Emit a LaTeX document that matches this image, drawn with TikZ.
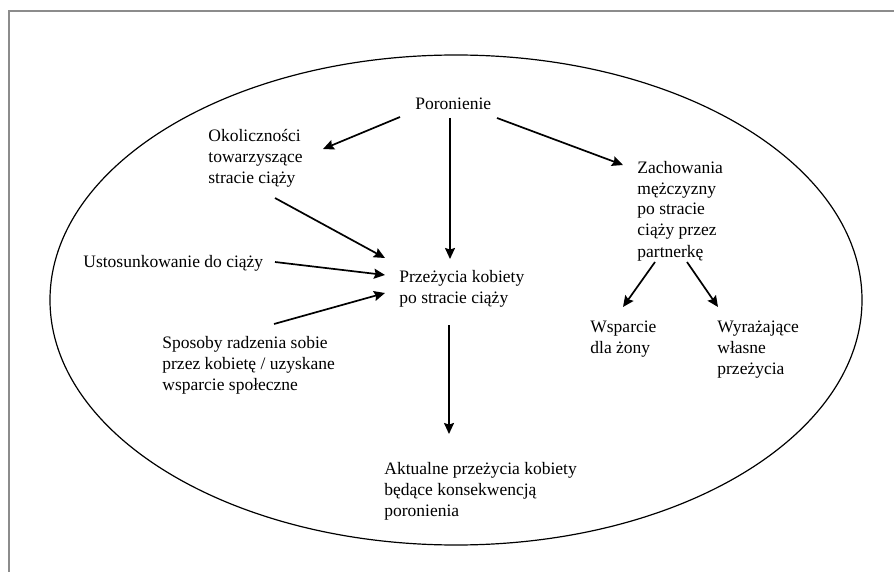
\documentclass[tikz,border=0pt]{standalone}
\usepackage{fontspec}
\setmainfont{Liberation Serif}
\usetikzlibrary{arrows.meta,calc,positioning}

\begin{document}
\begin{tikzpicture}[
    x=0.5pt, y=-0.5pt,
    every node/.style={font=\fontsize{8.75}{10.5}\selectfont},
    txt/.style={align=left, inner sep=0pt, anchor=base west},
    arrow/.style={-{Stealth[length=5.5pt, width=5pt, inset=0.8pt]}, line width=0.85pt},
    frame/.style={draw=black!45, line width=1pt}
]
    \useasboundingbox (0,0) rectangle (894,572);
    \draw[frame] (9,572) |- (894,11);
    \draw[line width=0.6pt] (456,300) ellipse [x radius=406, y radius=245];

    \node[txt] (por) at (415,110) {Poronienie};
    \node[txt] (okol) at (208,184) {Okoliczności\\towarzyszące\\stracie ciąży};
    \node[txt] (ust) at (83,268) {Ustosunkowanie do ciąży};
    \node[txt] (prz) at (399,304) {Przeżycia kobiety\\po stracie ciąży};
    \node[txt] (spos) at (162,390) {Sposoby radzenia sobie\\przez kobietę / uzyskane\\wsparcie społeczne};
    \node[txt] (akt) at (384,516) {Aktualne przeżycia kobiety\\będące konsekwencją\\poronienia};
    \node[txt] (zach) at (637,257) {Zachowania\\mężczyzny\\po stracie\\ciąży przez\\partnerkę};
    \node[txt] (wsp) at (590,353) {Wsparcie\\dla żony};
    \node[txt] (wyr) at (717,374) {Wyrażające\\własne\\przeżycia};

    \draw[arrow] ($(por.base west)+(-15,7)$) -- ($(okol.base west)+(115,-35)$);
    \draw[arrow] ($(por.base west)+(35,8)$) -- ($(prz.base west)+(51,-45)$);
    \draw[arrow] ($(por.base west)+(82,8)$) -- ($(zach.base west)+(-14,-92)$);
    \draw[arrow] ($(okol.base west)+(67,14)$) -- ($(prz.base west)+(-14,-46)$);
    \draw[arrow] ($(ust.base west)+(192,-6)$) -- ($(prz.base west)+(-14,-29)$);
    \draw[arrow] ($(spos.base west)+(112,-66)$) -- ($(prz.base west)+(-14,-11)$);
    \draw[arrow] ($(prz.base west)+(50,21)$) -- ($(akt.base west)+(65,-82)$);
    \draw[arrow] ($(zach.base west)+(18,5)$) -- ($(wsp.base west)+(33,-46)$);
    \draw[arrow] ($(zach.base west)+(50,5)$) -- ($(wyr.base west)+(1,-67)$);
\end{tikzpicture}
\end{document}
